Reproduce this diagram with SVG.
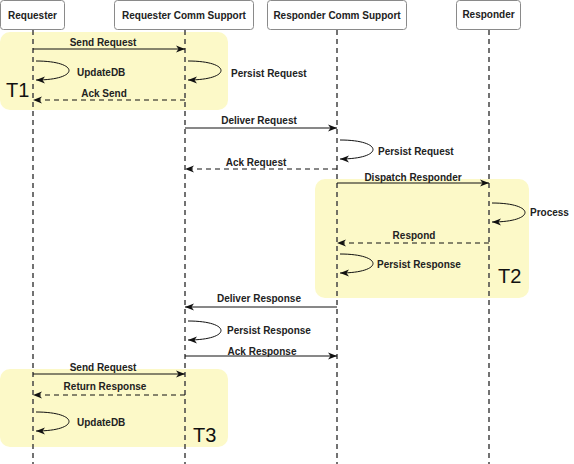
<svg xmlns="http://www.w3.org/2000/svg" width="574" height="464" viewBox="0 0 574 464">
<style>
.hdr{fill:#fff;stroke:#8a8a8a;stroke-width:1}
.ht{font-family:"Liberation Sans",Arial,sans-serif;font-size:10px;font-weight:bold;fill:#222;text-anchor:middle}
.life{stroke:#444;stroke-width:1.5;stroke-dasharray:5,4;fill:none}
.zone{fill:#fcf9c8}
.zt{font-family:"Liberation Sans",Arial,sans-serif;font-size:20px;fill:#111}
.msg{stroke:#111;stroke-width:1;fill:none;marker-end:url(#ah)}
.dash{stroke-dasharray:5,4}
.lbl{font-family:"Liberation Sans",Arial,sans-serif;font-size:10px;font-weight:bold;fill:#222}
.c{text-anchor:middle}
</style>
<defs>
<marker id="ah" markerWidth="10" markerHeight="8" refX="9" refY="4" orient="auto" markerUnits="userSpaceOnUse">
<path d="M0,0.5 L9,4 L0,7.5 L2.5,4 Z" fill="#111"/>
</marker>
</defs>
<rect width="574" height="464" fill="#fff"/>
<g id="zones">
<rect id="T1" class="zone" x="0" y="32" width="228" height="78" rx="10"/>
<rect id="T2" class="zone" x="315" y="179" width="214" height="119" rx="10"/>
<rect id="T3" class="zone" x="0" y="369" width="228" height="78" rx="10"/>
<text class="zt" x="6" y="97">T1</text>
<text class="zt" x="498" y="283">T2</text>
<text class="zt" x="193" y="442">T3</text>
</g>
<g id="lifelines">
<line class="life" x1="33" y1="30" x2="33" y2="464"/>
<line class="life" x1="185" y1="30" x2="185" y2="464"/>
<line class="life" x1="337" y1="30" x2="337" y2="464"/>
<line class="life" x1="489" y1="30" x2="489" y2="464"/>
</g>
<g id="requester"><rect class="hdr" x="0.5" y="0.5" width="64" height="29" rx="3"/><text class="ht" x="32.5" y="19">Requester</text></g>
<g id="requester-comm"><rect class="hdr" x="114.5" y="0.5" width="139" height="29" rx="3"/><text class="ht" x="184" y="19">Requester Comm Support</text></g>
<g id="responder-comm"><rect class="hdr" x="267.5" y="0.5" width="139" height="29" rx="3"/><text class="ht" x="337" y="19">Responder Comm Support</text></g>
<g id="responder"><rect class="hdr" x="456.5" y="0.5" width="64" height="29" rx="3"/><text class="ht" x="488.5" y="18">Responder</text></g>
<g id="connectors">
<line class="msg" x1="33" y1="49" x2="185" y2="49"/>
<path class="msg" d="M36,61 C80,61 80,80 36,80"/>
<path class="msg" d="M188,61 C232,61 232,80 188,80"/>
<line class="msg dash" x1="185" y1="100" x2="33" y2="100"/>
<line class="msg" x1="185" y1="128" x2="337" y2="128"/>
<path class="msg" d="M340,140 C384,140 384,159 340,159"/>
<line class="msg dash" x1="337" y1="169" x2="185" y2="169"/>
<line class="msg" x1="337" y1="183" x2="489" y2="183"/>
<path class="msg" d="M492,203 C536,203 536,222 492,222"/>
<line class="msg dash" x1="489" y1="243" x2="337" y2="243"/>
<path class="msg" d="M340,254 C384,254 384,273 340,273"/>
<line class="msg" x1="337" y1="307" x2="185" y2="307"/>
<path class="msg" d="M188,321 C232,321 232,340 188,340"/>
<line class="msg" x1="185" y1="356" x2="337" y2="356"/>
<line class="msg" x1="33" y1="374" x2="185" y2="374"/>
<line class="msg dash" x1="185" y1="395" x2="33" y2="395"/>
<path class="msg" d="M36,412 C80,412 80,431 36,431"/>
</g>
<g id="labels">
<text class="lbl c" x="103" y="46">Send Request</text>
<text class="lbl" x="77" y="76">UpdateDB</text>
<text class="lbl" x="231" y="77">Persist Request</text>
<text class="lbl c" x="104" y="97">Ack Send</text>
<text class="lbl c" x="259" y="124">Deliver Request</text>
<text class="lbl" x="378" y="155">Persist Request</text>
<text class="lbl c" x="256" y="166">Ack Request</text>
<text class="lbl c" x="413" y="181">Dispatch Responder</text>
<text class="lbl" x="530" y="216">Process</text>
<text class="lbl c" x="414" y="239">Respond</text>
<text class="lbl" x="377" y="268">Persist Response</text>
<text class="lbl c" x="259" y="302">Deliver Response</text>
<text class="lbl" x="227" y="334">Persist Response</text>
<text class="lbl c" x="262" y="355">Ack Response</text>
<text class="lbl c" x="103" y="371">Send Request</text>
<text class="lbl c" x="105" y="390">Return Response</text>
<text class="lbl" x="77" y="426">UpdateDB</text>
</g>
</svg>
